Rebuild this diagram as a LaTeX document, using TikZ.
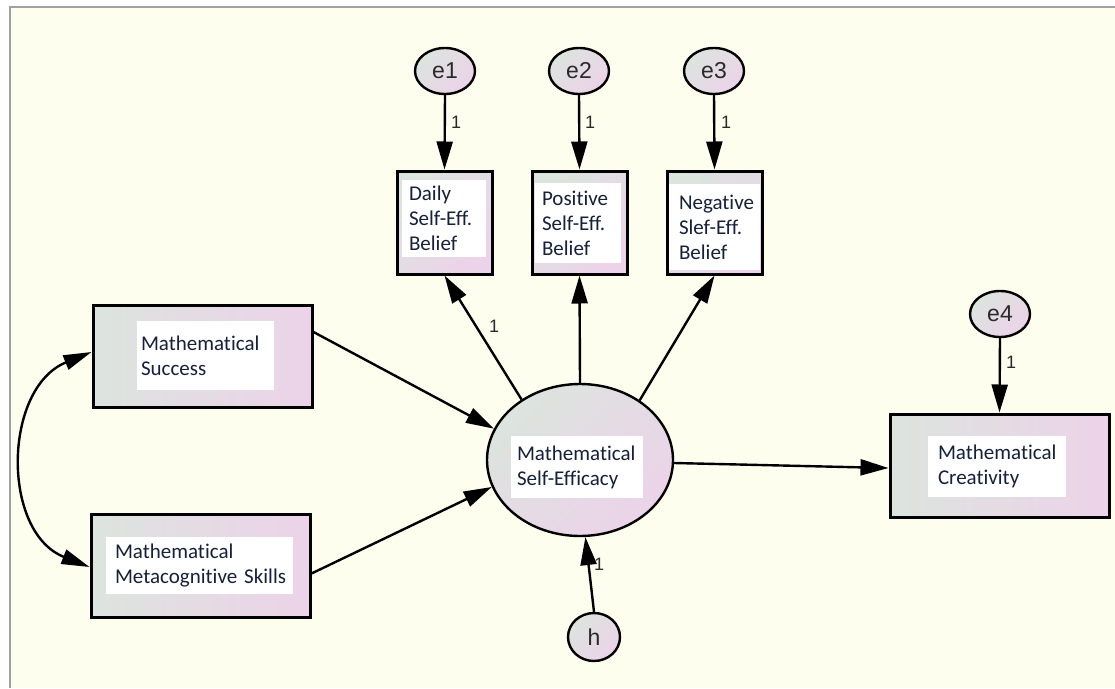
\documentclass[tikz,border=0pt]{standalone}
\usepackage{fontspec}
\setmainfont{Carlito}[Ligatures={NoCommon,NoRare}]
\newfontfamily\arialf{Liberation Sans}
\usetikzlibrary{arrows.meta,shapes.geometric,calc}
\definecolor{bg}{HTML}{FEFEEF}
\definecolor{framegray}{HTML}{A0A0A0}
\definecolor{gL}{HTML}{DCE4DE}
\definecolor{gR}{HTML}{ECD3E9}
\definecolor{txt}{HTML}{15203A}
\definecolor{num}{HTML}{2A2A2A}
\begin{document}
\begin{tikzpicture}[x=1pt,y=-1pt,
 obsbox/.style={draw=black, line width=3pt, rectangle, left color=gL, right color=gR, inner sep=0pt, minimum width=219pt, minimum height=103pt},
 itembox/.style={draw=black, line width=3pt, rectangle, top color=gL, bottom color=gR, shading angle=45, inner sep=0pt, minimum width=95pt, minimum height=103pt},
 latent/.style={draw=black, line width=2.4pt, ellipse, top color=gL, bottom color=gR, shading angle=45, inner sep=0pt},
 errnode/.style={latent, minimum width=60pt, minimum height=46pt, font=\arialf\fontsize{23}{23}\selectfont, text=num},
 panel/.style={fill=white, inner ysep=0pt, align=left, text=txt, font=\fontsize{21}{25}\selectfont},
 conn/.style={line width=2.4pt, -{Triangle[length=28pt,width=16pt]}},
 wlabel/.style={font=\arialf\fontsize{18}{18}\selectfont, text=num, inner sep=0pt},
]
\useasboundingbox (0,0) rectangle (1115,688);
\fill[white] (0,0) rectangle (1115,688);
\fill[bg] (10,7) rectangle (1115,688);
\draw[framegray, line width=2pt] (10,688) -- (10,7) -- (1115,7);

% error terms
\node[errnode] (e1) at (445,71) {e1};
\node[errnode] (e2) at (579,71) {e2};
\node[errnode] (e3) at (714,71) {e3};
\node[errnode] (e4) at (1000,314) {e4};
\node[errnode, minimum width=52pt, minimum height=48pt] (h) at (594,637) {h};

% indicator boxes
\node[itembox] (daily) at (444.5,222.5) {};
\node[panel, minimum width=84pt, minimum height=77pt, inner xsep=7pt, text width=70pt] (dailyT) at (444,218.5) {Daily\\Self-Eff.\\Belief};
\node[itembox] (pos) at (579.5,222.5) {};
\node[panel, minimum width=86pt, minimum height=80pt, inner xsep=7pt, text width=72pt] (posT) at (578,223) {Positive\\Self-Eff.\\Belief};
\node[itembox] (neg) at (714.5,222.5) {};
\node[panel, minimum width=91pt, minimum height=86pt, inner xsep=10pt, text width=71pt] (negT) at (714.5,227) {Negative\\Slef-Eff.\\Belief};

% observed boxes
\node[obsbox, minimum height=102pt] (succ) at (202.5,356) {};
\node[panel, minimum width=137pt, minimum height=69pt, inner xsep=4pt, text width=129pt] (succT) at (205.5,355.5) {Mathematical\\Success};
\node[obsbox] (meta) at (200.5,565.5) {};
\node[panel, minimum width=187pt, minimum height=57pt, inner xsep=9pt, text width=169pt] (metaT) at (199.5,565.5) {Mathematical\\\mbox{Metacognitive Skills}};
\node[obsbox] (creat) at (999.5,465.5) {};
\node[panel, minimum width=138pt, minimum height=61pt, inner xsep=10pt, text width=118pt] (creatT) at (997,466.5) {Mathematical\\Creativity};

% latent
\node[latent, minimum width=186pt, minimum height=152pt] (se) at (580,460) {};
\node[panel, minimum width=132pt, minimum height=62pt, inner xsep=6pt, text width=120pt] (seT) at (577,467) {Mathematical\\Self-Efficacy};

% connectors
\draw[conn] (e1.south) -- (daily.north);
\draw[conn] (e2.south) -- (pos.north);
\draw[conn] (e3.south) -- (neg.north);
\draw[conn] (e4.south) -- (creat.north);
\draw[conn] (se.134) -- (daily.south);
\draw[conn] (se.north) -- (pos.south);
\draw[conn] (se.45) -- (neg.south);
\draw[conn] ([yshift=24pt]succ.east) -- (se.160);
\draw[conn] ([yshift=-8pt]meta.east) -- (se.197);
\draw[conn] ([yshift=-3pt]se.east) -- ([yshift=-2.5pt]creat.west);
\draw[conn] (h.north) -- (se.-86);
\draw[line width=2.4pt, {Triangle[length=28pt,width=15pt]}-{Triangle[length=28pt,width=15pt]}]
  ([yshift=4pt]succ.west) .. controls (3,388) and (1,532) .. ([yshift=-1.5pt]meta.west);

% labels
\node[wlabel] (l1) at (456,122) {1};
\node[wlabel] (l2) at (590,122) {1};
\node[wlabel] (l3) at (726,122) {1};
\node[wlabel] (l4) at (1011,362) {1};
\node[wlabel] (l5) at (494,326) {1};
\node[wlabel] (l6) at (599,564) {1};
\end{tikzpicture}
\end{document}
